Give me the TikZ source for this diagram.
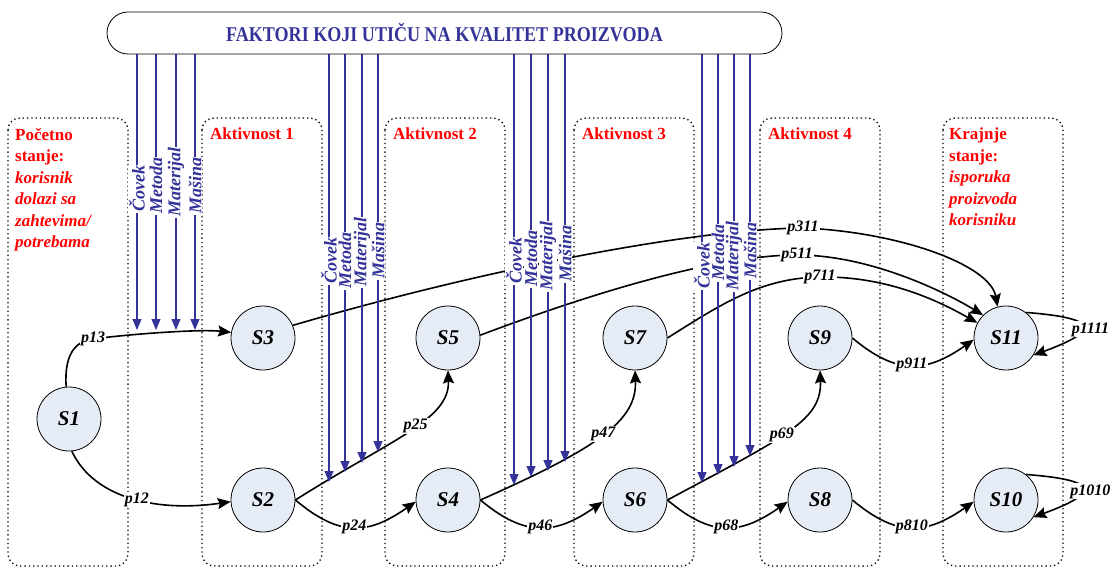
\documentclass[tikz,border=0pt]{standalone}
\usepackage{fontspec}
\setmainfont{Liberation Serif}
\usetikzlibrary{arrows.meta}
\definecolor{factorblue}{RGB}{51,51,153}
\definecolor{statefill}{RGB}{230,236,246}

\begin{document}
\begin{tikzpicture}[x=1pt,y=-1pt]
    \tikzstyle{every node}=[font=\bfseries\itshape]
    \tikzstyle{lane}=[draw, dash pattern=on 1.3pt off 3pt, line width=1.3pt, rounded corners=12pt]
    \tikzstyle{headline}=[draw, line width=0.8pt, rounded corners=21pt, minimum width=675pt, minimum height=42pt, text=factorblue, font=\fontsize{21}{21}\selectfont\bfseries]
    \tikzstyle{lanetitle}=[anchor=north west, align=left, text=red, inner sep=0pt, font=\fontsize{17}{21.5}\selectfont\bfseries]
    \tikzstyle{state}=[circle, draw, line width=0.8pt, fill=statefill, minimum size=64pt, inner sep=0pt, font=\fontsize{21}{21}\selectfont\bfseries\itshape]
    \tikzstyle{trans}=[draw, line width=1.6pt, -{Stealth[length=13pt,width=11pt,inset=2pt]}]
    \tikzstyle{prob}=[fill=white, inner sep=1pt, font=\fontsize{16}{16}\selectfont\bfseries\itshape]
    \tikzstyle{factor}=[draw=factorblue, line width=1.1pt, -{Triangle[length=11pt,width=9pt]}]
    \tikzstyle{factorname}=[fill=white, text=factorblue, inner sep=1pt, rotate=90, anchor=west, font=\fontsize{18}{18}\selectfont\bfseries\itshape]

    \useasboundingbox (0,0) rectangle (1115,569);

    \foreach \x in {8,202,385,574,760,943}
        \draw[lane] (\x,118) rectangle +(120,448);

    \node[headline] (banner) at (444.5,33) {\scalebox{0.86}[1]{FAKTORI KOJI UTIČU NA KVALITET PROIZVODA}};

    \node[lanetitle] (start) at (15,128) {Početno\\stanje:\\\textit{korisnik}\\\textit{dolazi sa}\\\textit{zahtevima/}\\\textit{potrebama}};
    \node[lanetitle] (act1) at (210,128) {Aktivnost 1};
    \node[lanetitle] (act2) at (393,128) {Aktivnost 2};
    \node[lanetitle] (act3) at (582,128) {Aktivnost 3};
    \node[lanetitle] (act4) at (768,128) {Aktivnost 4};
    \node[lanetitle] (finish) at (949,128) {Krajnje\\stanje:\\\textit{isporuka}\\\textit{proizvoda}\\\textit{korisniku}};

    \node[state] (S1) at (69,419) {S1};
    \node[state] (S3) at (263,338) {S3};
    \node[state] (S2) at (263,500) {S2};
    \node[state] (S5) at (448,338) {S5};
    \node[state] (S4) at (448,500) {S4};
    \node[state] (S7) at (635,338) {S7};
    \node[state] (S6) at (635,500) {S6};
    \node[state] (S9) at (820,338) {S9};
    \node[state] (S8) at (820,500) {S8};
    \node[state] (S11) at (1006,338) {S11};
    \node[state] (S10) at (1006,500) {S10};

    \draw[trans] (S1.95) .. controls (64,355) and (75,341) .. (93,339) node[prob] {p13} .. controls (130,334) and (200,329) .. (S3.170);
    \draw[trans] (S1.-85) .. controls (95,500) and (160,512) .. node[prob, pos=0.52] {p12} (S2.183);
    \draw[trans] (S2.east) .. controls +(-40:58pt) and +(215:58pt) .. node[prob] {p24} (S4.183);
    \draw[trans] (S4.east) .. controls +(-40:58pt) and +(215:58pt) .. node[prob] {p46} (S6.183);
    \draw[trans] (S6.east) .. controls +(-40:58pt) and +(215:58pt) .. node[prob] {p68} (S8.183);
    \draw[trans] (S8.east) .. controls +(-40:58pt) and +(215:58pt) .. node[prob] {p810} (S10.183);
    \draw[trans] (S9.east) .. controls +(-40:58pt) and +(215:58pt) .. node[prob] {p911} (S11.183);
    \draw[trans] (S2.east) .. controls (390,440) and (450,420) .. node[prob, pos=0.55] {p25} (S5.south);
    \draw[trans] (S4.east) .. controls (600,447) and (637,420) .. node[prob, pos=0.5] {p47} (S7.south);
    \draw[trans] (S6.east) .. controls (787,436) and (822,420) .. node[prob, pos=0.45] {p69} (S9.south);
    \draw[trans] (S3.23) .. controls (500,265) and (700,229) .. (803,228) node[prob] {p311} .. controls (900,232) and (990,265) .. (S11.105);
    \draw[trans] (S5.5) .. controls (600,290) and (720,255) .. (797,255) node[prob] {p511} .. controls (870,255) and (945,292) .. (S11.135);
    \draw[trans] (S7.east) .. controls (720,305) and (760,278) .. (820,277) node[prob] {p711} .. controls (890,276) and (942,303) .. (S11.152);
    \draw[trans] (S11.52) .. controls (1098,318) and (1102,330) .. node[prob, xshift=8pt, yshift=-3pt] {p1111} (S11.-32);
    \draw[trans] (S10.52) .. controls (1098,480) and (1102,492) .. node[prob, xshift=8pt, yshift=-3pt] {p1010} (S10.-32);

    \foreach \x/\tip/\low/\name in {137/330/213/Čovek, 156/330/215/Metoda, 176/330/218/Materijal, 195/330/215/Mašina,
                                   329/482/285/Čovek, 345/472/290/Metoda, 362/463/288/Materijal, 378/452/280/Mašina,
                                   514/485/285/Čovek, 531/477/288/Metoda, 548/471/292/Materijal, 565/462/283/Mašina,
                                   702/483/290/Čovek, 718/475/282/Metoda, 734/467/292/Materijal, 750/456/280/Mašina}
    {
        \draw[factor] (banner.south -| \x,0) -- (\x,\tip);
        \node[factorname] (f\x) at (\x,\low) {\name};
    }
\end{tikzpicture}
\end{document}
